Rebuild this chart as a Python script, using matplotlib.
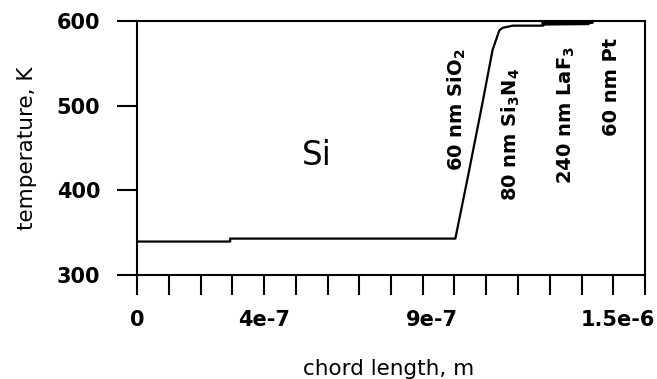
import matplotlib
matplotlib.use("Agg")
import matplotlib.pyplot as plt
import numpy as np

# temperature profile through the layer stack
chord_length = [0, 2.75e-7, 2.75e-7, 9.4e-7, 9.75e-7, 1.02e-6, 1.05e-6, 1.07e-6,
                1.08e-6, 1.11e-6, 1.2e-6, 1.2e-6, 1.33e-6, 1.345e-6]
temperature = [339.5, 339.5, 343, 343, 412, 503, 566, 589,
               592, 594.5, 594.5, 597, 597.5, 598]

# layer labels: text, x, y
layer_labels = ["Si", "60 nm SiO$_2$", "80 nm Si$_3$N$_4$", "240 nm LaF$_3$", "60 nm Pt"]
label_x = [5.31e-7, 9.45e-7, 1.104e-6, 1.267e-6, 1.40e-6]
label_y = [441, 495, 466, 489, 522]

x_ticks = np.linspace(0, 1.5e-6, 17)
x_label_pos = [0, 3.75e-7, 8.7e-7, 1.42e-6]
x_label_txt = ["0", "4e-7", "9e-7", "1.5e-6"]
y_ticks = [300, 400, 500, 600]

plt.rcParams['mathtext.default'] = 'regular'

fig = plt.figure(figsize=(6.57, 3.79), dpi=100)
ax = fig.add_axes([137 / 657, 1 - 275 / 379, 508 / 657, 254 / 379])

ax.plot(chord_length, temperature, color='black', linewidth=1.6)
# thick plateau in the LaF3 layer
ax.plot(chord_length[11:13], temperature[11:13], color='black', linewidth=3)

ax.set_xlim(0, 1.5e-6)
ax.set_ylim(300, 600)

for sp in ax.spines.values():
    sp.set_linewidth(1.5)

ax.set_yticks(y_ticks)
ax.set_yticklabels([str(v) for v in y_ticks], fontweight='bold', fontsize=15)
ax.tick_params(axis='y', direction='out', length=14.4, width=1.5, pad=12)

ax.xaxis.remove_overlapping_locs = False
ax.set_xticks(x_label_pos)
ax.set_xticklabels(x_label_txt, fontweight='bold', fontsize=15)
ax.set_xticks(x_ticks, minor=True)
ax.tick_params(axis='x', which='major', length=0, pad=25)
ax.tick_params(axis='x', which='minor', direction='out', length=14.4, width=1.5)

ax.set_xlabel("chord length, m", fontsize=15.5, va='center')
ax.xaxis.set_label_coords(0.496, -0.37)
ax.set_ylabel("temperature, K", fontsize=15.5, va='center')
ax.yaxis.set_label_coords(-0.2165, 0.5)

for i, (txt, x, y) in enumerate(zip(layer_labels, label_x, label_y)):
    if i == 0:
        ax.text(x, y, txt, fontsize=23.5, ha='center', va='center')
    else:
        ax.text(x, y, txt, fontsize=14, fontweight='bold', rotation=90,
                ha='center', va='center')

plt.savefig("out.png", dpi=100)
